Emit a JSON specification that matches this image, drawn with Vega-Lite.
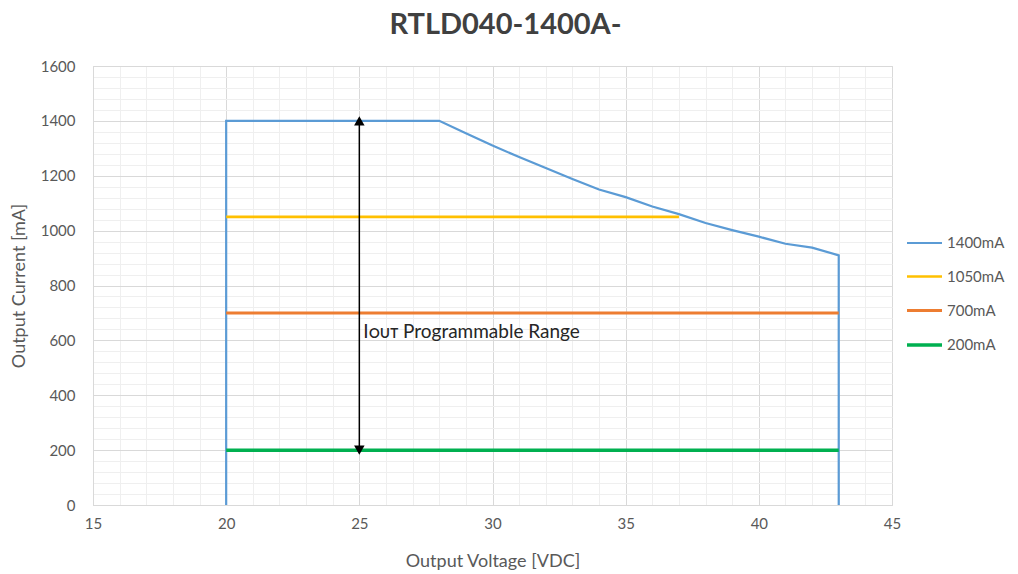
{
  "$schema": "https://vega.github.io/schema/vega-lite/v6.json",
  "width": 799,
  "height": 439,
  "autosize": {"type": "none"},
  "padding": {"left": 93, "top": 66, "right": 126, "bottom": 69},
  "background": "white",
  "title": {"text": "RTLD040-1400A-", "fontSize": 29, "font": "Lato", "fontWeight": "bold", "color": "#404040", "anchor": "middle", "dx": 13, "offset": 19},
  "config": {"view": {"stroke": "#d9d9d9"}, "font": "Lato"},
  "datasets": {
    "curves": [
      {"s": "1400mA", "o": 0, "v": 20, "i": 0},
      {"s": "1400mA", "o": 1, "v": 20, "i": 1400},
      {"s": "1400mA", "o": 2, "v": 28, "i": 1400},
      {"s": "1400mA", "o": 3, "v": 29, "i": 1355},
      {"s": "1400mA", "o": 4, "v": 30, "i": 1310},
      {"s": "1400mA", "o": 5, "v": 31, "i": 1268},
      {"s": "1400mA", "o": 6, "v": 32, "i": 1228},
      {"s": "1400mA", "o": 7, "v": 33, "i": 1188},
      {"s": "1400mA", "o": 8, "v": 34, "i": 1150},
      {"s": "1400mA", "o": 9, "v": 35, "i": 1122},
      {"s": "1400mA", "o": 10, "v": 36, "i": 1088},
      {"s": "1400mA", "o": 11, "v": 37, "i": 1060},
      {"s": "1400mA", "o": 12, "v": 38, "i": 1028},
      {"s": "1400mA", "o": 13, "v": 39, "i": 1002},
      {"s": "1400mA", "o": 14, "v": 40, "i": 978},
      {"s": "1400mA", "o": 15, "v": 41, "i": 952},
      {"s": "1400mA", "o": 16, "v": 42, "i": 938},
      {"s": "1400mA", "o": 17, "v": 43, "i": 910},
      {"s": "1400mA", "o": 18, "v": 43, "i": 0},
      {"s": "1050mA", "o": 0, "v": 20, "i": 1050},
      {"s": "1050mA", "o": 1, "v": 37, "i": 1050},
      {"s": "700mA", "o": 0, "v": 20, "i": 700},
      {"s": "700mA", "o": 1, "v": 43, "i": 700},
      {"s": "200mA", "o": 0, "v": 20, "i": 200},
      {"s": "200mA", "o": 1, "v": 43, "i": 200}
    ],
    "arrow": [{"v": 25, "lo": 200, "hi": 1400}],
    "heads": [{"v": 25, "i": 1400, "dir": "up"}, {"v": 25, "i": 200, "dir": "down"}],
    "label": [{"v": 25.15, "i": 630, "t": "Iᴏᴜᴛ Programmable Range"}]
  },
  "layer": [
    {
      "data": {"name": "curves"},
      "mark": {"type": "line", "clip": false},
      "encoding": {
        "x": {
          "field": "v", "type": "quantitative",
          "scale": {"domain": [15, 45], "nice": false, "zero": false},
          "axis": {
            "title": "Output Voltage [VDC]",
            "values": [15,16,17,18,19,20,21,22,23,24,25,26,27,28,29,30,31,32,33,34,35,36,37,38,39,40,41,42,43,44,45],
            "tickCount": 200,
            "format": "d",
            "labelExpr": "datum.value % 5 === 0 ? datum.label : ''",
            "labelOverlap": false,
            "labelFlush": false,
            "ticks": false,
            "domainColor": "#d9d9d9",
            "gridColor": {"condition": {"test": "datum.value % 5 === 0", "value": "#d9d9d9"}, "value": "#efefef"},
            "labelFontSize": 15, "labelColor": "#595959", "labelPadding": 11,
            "titleFontSize": 18, "titleColor": "#595959", "titleFontWeight": "normal", "titlePadding": 21
          }
        },
        "y": {
          "field": "i", "type": "quantitative",
          "scale": {"domain": [0, 1600], "nice": false},
          "axis": {
            "title": "Output Current [mA]",
            "values": [0,40,80,120,160,200,240,280,320,360,400,440,480,520,560,600,640,680,720,760,800,840,880,920,960,1000,1040,1080,1120,1160,1200,1240,1280,1320,1360,1400,1440,1480,1520,1560,1600],
            "tickCount": 200,
            "labelExpr": "datum.value % 200 === 0 ? datum.label : ''",
            "labelOverlap": false,
            "labelFlush": false,
            "format": "d",
            "ticks": false,
            "domainColor": "#d9d9d9",
            "gridColor": {"condition": {"test": "datum.value % 200 === 0", "value": "#d9d9d9"}, "value": "#efefef"},
            "labelFontSize": 15, "labelColor": "#595959", "labelPadding": 18,
            "titleFontSize": 18, "titleColor": "#595959", "titleFontWeight": "normal", "titlePadding": 12
          }
        },
        "order": {"field": "o", "type": "quantitative"},
        "color": {
          "field": "s", "type": "nominal",
          "scale": {"domain": ["1400mA", "1050mA", "700mA", "200mA"], "range": ["#5B9BD5", "#FFC000", "#ED7D31", "#00B050"]},
          "legend": {
            "orient": "none", "legendX": 812, "legendY": 158, "title": null,
            "symbolType": "stroke", "symbolSize": 1225, "symbolStrokeWidth": 3,
            "labelFontSize": 15, "labelColor": "#595959", "rowPadding": 6.5, "labelOffset": 3
          }
        },
        "strokeWidth": {
          "field": "s", "type": "nominal",
          "scale": {"domain": ["1400mA", "1050mA", "700mA", "200mA"], "range": [2.2, 3.5, 3.5, 3.5]},
          "legend": null
        }
      }
    },
    {
      "data": {"name": "arrow"},
      "mark": {"type": "rule", "color": "#000000", "strokeWidth": 1.5},
      "encoding": {
        "x": {"field": "v", "type": "quantitative"},
        "y": {"field": "lo", "type": "quantitative"},
        "y2": {"field": "hi"}
      }
    },
    {
      "data": {"name": "heads"},
      "mark": {"type": "point", "filled": true, "color": "#000000", "size": 110, "opacity": 1},
      "encoding": {
        "x": {"field": "v", "type": "quantitative"},
        "y": {"field": "i", "type": "quantitative"},
        "shape": {"field": "dir", "type": "nominal", "scale": {"domain": ["up", "down"], "range": ["triangle-up", "triangle-down"]}, "legend": null},
        "yOffset": {"field": "dir", "type": "nominal", "scale": {"domain": ["up", "down"], "range": [7, -7]}}
      }
    },
    {
      "data": {"name": "label"},
      "mark": {"type": "text", "align": "left", "baseline": "middle", "fontSize": 19, "color": "#262626"},
      "encoding": {
        "x": {"field": "v", "type": "quantitative"},
        "y": {"field": "i", "type": "quantitative"},
        "text": {"field": "t"}
      }
    }
  ]
}
